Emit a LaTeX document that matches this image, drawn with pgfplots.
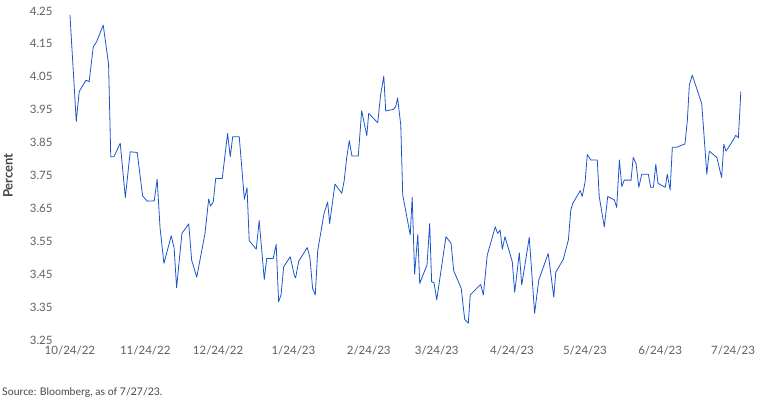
\documentclass[border=0pt]{standalone}
\usepackage{pgfplots}
\pgfplotsset{compat=1.18}
\usepackage{fontspec}
\setmainfont{Lato}
\definecolor{linec}{RGB}{28,84,204}
\definecolor{tickc}{RGB}{95,95,95}
\definecolor{labc}{RGB}{70,70,70}
\begin{document}
\begin{tikzpicture}
\useasboundingbox (0,0) rectangle (761pt,407pt);
\begin{axis}[
  at={(65.1pt,67pt)}, anchor=south west,
  scale only axis, width=680.1pt, height=329pt,
  xmin=-2, xmax=278, ymin=3.25, ymax=4.25,
  clip=false,
  axis line style={draw=none},
  major tick length=0pt,
  xtick={0,31,61,92,123,151,182,212,243,273},
  xticklabels={10/24/22,11/24/22,12/24/22,1/24/23,2/24/23,3/24/23,4/24/23,5/24/23,6/24/23,7/24/23},
  ytick={3.25,3.35,3.45,3.55,3.65,3.75,3.85,3.95,4.05,4.15,4.25},
  yticklabel={\pgfmathprintnumber[fixed,precision=2,fixed zerofill]{\tick}},
  /pgf/number format/assume math mode=true,
  tick label style={font=\fontsize{11.5}{14}\selectfont, text=tickc},
  every y tick label/.append style={xshift=-9pt},
  every x tick label/.append style={yshift=-2pt},
  ylabel={Percent},
  every axis y label/.style={at={(axis description cs:0,0.5)}, rotate=90, anchor=center, yshift=57pt, font=\fontsize{13}{15}\selectfont\bfseries, text=labc},
]
\addplot[linec, line width=0.8pt, line join=round] coordinates {
(0,4.238) (2.6,3.914) (3.8,4.005) (6.6,4.040) (7.9,4.035) (9.6,4.141) (11.0,4.157) (13.7,4.207)
(15.9,4.088) (16.8,3.807) (18.1,3.807) (20.7,3.848) (22.8,3.683) (24.8,3.822) (27.7,3.820)
(29.9,3.688) (31.8,3.672) (34.7,3.673) (35.9,3.739) (37.1,3.590) (38.7,3.483) (41.7,3.567)
(42.9,3.529) (43.9,3.409) (46.1,3.574) (48.9,3.603) (50.1,3.493) (52.2,3.441) (55.6,3.574)
(57.1,3.678) (57.9,3.657) (59.0,3.670) (60.0,3.741) (62.7,3.741) (64.9,3.878) (66.0,3.807)
(67.0,3.868) (69.7,3.868) (71.8,3.678) (72.9,3.713) (73.8,3.552) (76.7,3.526) (77.9,3.613)
(80.0,3.434) (81.0,3.498) (83.7,3.498) (84.9,3.541) (85.9,3.366) (86.9,3.387) (88.0,3.473)
(90.7,3.503) (92.4,3.445) (92.9,3.439) (94.2,3.490) (97.7,3.531) (98.8,3.500) (99.9,3.407)
(101.0,3.387) (102.0,3.521) (104.6,3.635) (106.1,3.669) (106.9,3.604) (109.1,3.724)
(111.9,3.696) (112.9,3.734) (113.9,3.802) (115.0,3.856) (116.1,3.809) (118.7,3.809)
(120.1,3.947) (122.2,3.871) (123.0,3.939) (126.7,3.910) (127.9,3.995) (129.2,4.052)
(130.0,3.946) (133.1,3.951) (134.1,3.959) (134.9,3.986) (136.2,3.903) (137.0,3.691)
(140.1,3.569) (140.9,3.684) (141.9,3.450) (143.2,3.571) (144.0,3.422) (147.0,3.478)
(148.1,3.604) (148.9,3.427) (149.9,3.424) (151.0,3.372) (154.8,3.564) (156.9,3.544)
(158.0,3.460) (161.1,3.407) (162.5,3.313) (164.0,3.301) (164.8,3.387) (169.1,3.419)
(170.2,3.387) (171.8,3.508) (175.1,3.594) (176.1,3.574) (177.1,3.584) (178.0,3.526)
(179.1,3.564) (182.1,3.488) (183.1,3.395) (185.0,3.515) (186.0,3.417) (189.1,3.562)
(191.3,3.331) (193.0,3.432) (196.9,3.513) (199.2,3.380) (200.0,3.456) (203.1,3.495)
(205.2,3.554) (206.2,3.645) (207.0,3.665) (210.1,3.704) (210.9,3.686) (212.1,3.731)
(213.0,3.814) (214.4,3.797) (217.1,3.797) (217.9,3.686) (220.0,3.594) (221.4,3.686)
(224.1,3.676) (225.1,3.653) (226.2,3.797) (227.2,3.716) (228.2,3.736) (231.0,3.736)
(231.9,3.805) (233.1,3.785) (234.2,3.714) (235.4,3.754) (238.1,3.754) (239.1,3.714)
(240.2,3.714) (241.2,3.784) (242.1,3.726) (245.1,3.714) (245.9,3.754) (247.1,3.706)
(248.0,3.836) (249.8,3.836) (253.2,3.846) (254.2,3.919) (255.0,4.025) (256.2,4.055)
(260.1,3.969) (262.2,3.754) (263.2,3.824) (266.3,3.805) (268.3,3.744) (269.2,3.845)
(270.1,3.824) (273.1,3.858) (274.1,3.872) (275.2,3.865) (276.2,4.005)
};
\end{axis}
\node[anchor=west, font=\fontsize{10.5}{12}\selectfont, text=labc, inner sep=0pt] at (2pt,14pt) {Source: Bloomberg, as of 7/27/23.};
\end{tikzpicture}
\end{document}
